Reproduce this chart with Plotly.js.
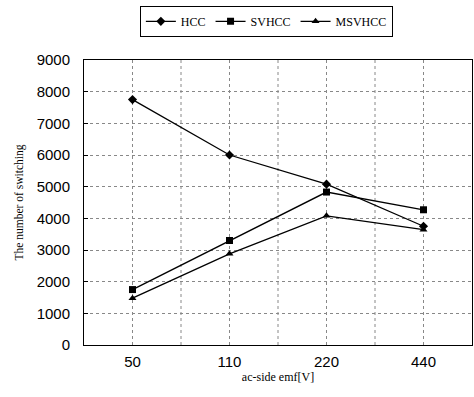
<!DOCTYPE html>
<html><head><meta charset="utf-8">
<script src="https://cdn.plot.ly/plotly-3.0.1.min.js"></script>
<style>html,body{margin:0;padding:0;background:#fff}#chart{width:474px;height:397px}</style>
</head><body><div id="chart"></div>
<script>
const categories = ["50", "110", "220", "440"];
const hcc = [7750, 6000, 5080, 3750];
const svhcc = [1750, 3300, 4830, 4270];
const msvhcc = [1480, 2880, 4080, 3640];
const yTicks = [0,1000,2000,3000,4000,5000,6000,7000,8000,9000];

function tr(name, y, sym){
  return {x: categories, y: y, name: name, type: 'scatter', mode: 'lines+markers',
    line: {color: '#000', width: 1.3},
    marker: {symbol: sym, size: 7, color: '#000'}};
}
const data = [tr('HCC', hcc, 'diamond'), tr('SVHCC', svhcc, 'square'), tr('MSVHCC', msvhcc, 'triangle-up')];

const shapes = [0.5, 1.5, 2.5].map(v => ({type:'line', xref:'x', yref:'paper', x0:v, x1:v, y0:0, y1:1,
  line:{color:'#888', width:1, dash:'dot'}, layer:'below'}));

const layout = {
  width: 474, height: 397,
  margin: {l: 84, r: 2, t: 60, b: 52},
  paper_bgcolor: '#fff', plot_bgcolor: '#fff',
  showlegend: true,
  legend: {orientation: 'h', x: 0.47, xanchor: 'center', y: 1.19, yanchor: 'top',
    bordercolor: '#000', borderwidth: 1, font: {family: 'Liberation Serif', size: 12, color: '#000'},
    traceorder: 'normal', itemclick: false, itemwidth: 30, tracegroupgap: 0},
  xaxis: {type: 'category', range: [-0.5, 3.5], showline: true, mirror: true, linecolor: '#000', linewidth: 1,
    showgrid: true, gridcolor: '#888', griddash: 'dot', gridwidth: 1, ticks: '', ticklabelstandoff: 3,
    tickfont: {family: 'Liberation Sans', size: 15, color: '#000'},
    title: {text: 'ac-side emf[V]', font: {family: 'Liberation Serif', size: 12, color: '#000'}, standoff: 0}},
  yaxis: {range: [0, 9000], tickvals: yTicks, showline: true, mirror: true, linecolor: '#000', linewidth: 1,
    showgrid: true, gridcolor: '#888', griddash: 'dot', gridwidth: 1, zeroline: false,
    ticks: 'inside', ticklen: 4, tickcolor: '#000', ticklabelstandoff: 10,
    tickfont: {family: 'Liberation Sans', size: 15, color: '#000'},
    title: {text: 'The number of switching', font: {family: 'Liberation Serif', size: 11.5, color: '#000'}, standoff: 10}},
  shapes: shapes
};
Plotly.newPlot('chart', data, layout, {staticPlot: true, displayModeBar: false});
</script></body></html>
